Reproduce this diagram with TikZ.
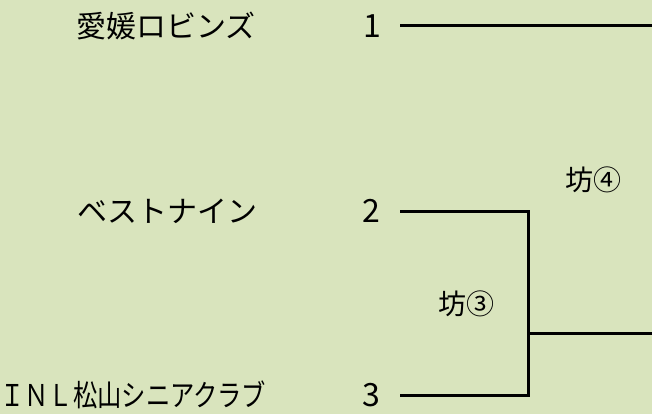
\documentclass[tikz,border=0pt]{standalone}
\usepackage{fontspec}
\newfontfamily\jp{Noto Sans CJK JP}
\definecolor{bg}{RGB}{217,228,189}
\tikzset{
  team/.style={anchor=west, inner sep=0pt, font=\jp\fontsize{30}{30}\selectfont},
  num/.style={inner sep=0pt, font=\jp\fontsize{32}{32}\selectfont},
  game/.style={inner sep=0pt, font=\jp\fontsize{28}{28}\selectfont},
  bline/.style={line width=3pt, black},
}
\begin{document}
\begin{tikzpicture}[x=1pt,y=-1pt]
\fill[bg] (0,0) rectangle (652,414);
\useasboundingbox (0,0) rectangle (652,414);
\node[team] (t1) at (76,26) {愛媛ロビンズ};
\node[team] (t2) at (77,211) {ベストナイン};
\node[team] (t3) at (0,395) {\scalebox{0.81}[1]{ＩＮＬ松山シニアクラブ}};
\node[num] (n1) at (372,26) {1};
\node[num] (n2) at (371,211) {2};
\node[num] (n3) at (371,395) {3};
\coordinate (s1) at (400,26);
\coordinate (e1) at (652,26);
\coordinate (s2) at (400,211);
\coordinate (c2) at (528,211);
\coordinate (s3) at (400,395);
\coordinate (c3) at (528,395);
\coordinate (m) at (528,333);
\coordinate (e2) at (652,333);
\draw[bline] (s1) -- (e1);
\draw[bline] (s2) -- (c2) -- (c3) -- (s3);
\draw[bline] (m) -- (e2);
\node[game] (g3) at (466,304) {坊③};
\node[game] (g4) at (593,180) {坊④};
\end{tikzpicture}
\end{document}
